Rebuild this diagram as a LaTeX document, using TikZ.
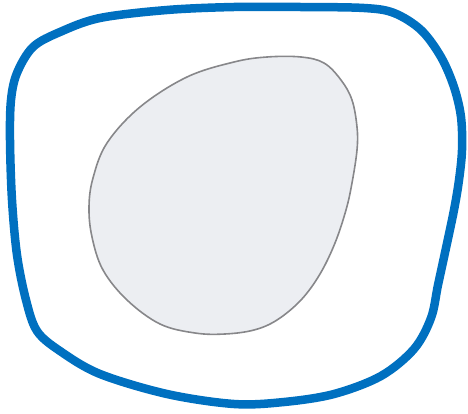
\documentclass[tikz,border=0pt]{standalone}
\definecolor{outerblue}{RGB}{0,112,192}
\definecolor{eggfill}{RGB}{236,238,242}
\definecolor{egggray}{RGB}{135,135,138}
\tikzset{
  outerline/.style={draw=outerblue, line width=8.5pt, line join=round},
  eggshape/.style={draw=egggray, fill=eggfill, line width=1.6pt}
}
\begin{document}
\begin{tikzpicture}[x=1pt,y=-1pt]
\useasboundingbox (0,0) rectangle (468,414);
\draw[eggshape] plot[smooth cycle, tension=0.6] coordinates {
 (234,62) (267,57) (301,57) (324,63) (341,80) (352,100) (357,127) (357,150)
 (352,183) (346,210) (335,243) (320,274) (301,300) (277,320) (254,330) (225,334)
 (195,333) (160,324) (127,300) (103,270) (92,237) (89,207) (93,178) (107,143)
 (140,107) (187,77)};
\draw[outerline] plot[smooth cycle, tension=0.55] coordinates {
 (234,7) (300,7) (364,8) (394,13) (421,30) (441,57) (454,87) (461,117)
 (462,150) (459,180) (454,210) (446,248) (438,285) (431,318)
 (414,349) (381,376) (334,394) (284,402) (234,404) (167,394) (100,374)
 (60,351) (37,331) (26,300) (17,255) (12,200) (10,140) (11,100)
 (17,73) (33,47) (60,32) (100,18) (167,10)};
\end{tikzpicture}
\end{document}
